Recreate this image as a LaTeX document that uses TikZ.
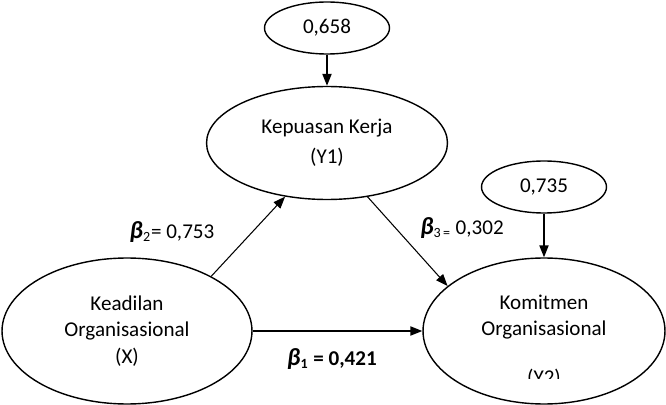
\documentclass[tikz,border=0pt]{standalone}
\usepackage{fontspec}
\setmainfont{Carlito}
\usetikzlibrary{shapes,arrows.meta}

\newcommand{\bcoef}{{\fontsize{14}{15}\selectfont\textbf{\textit{β}}}}

\begin{document}
\begin{tikzpicture}[
	x=0.02cm, y=-0.02cm,
	var/.style={ellipse, draw, line width=0.8pt, inner sep=0pt, align=center, font=\fontsize{12}{15}\selectfont},
	err/.style={ellipse, draw, line width=0.8pt, minimum width=2.5cm, minimum height=1.04cm, inner sep=0pt, font=\fontsize{12}{15}\selectfont},
	effect/.style={line width=0.6pt, -{Triangle[length=6.8pt, width=5.2pt]}},
	txt/.style={inner sep=0pt, font=\fontsize{12}{15}\selectfont}
	]
	\useasboundingbox (0,0) rectangle (666,405);
	
	% Variables
	\node[var, minimum width=5cm, minimum height=2.92cm] (kx) at (127,331) {Keadilan\\Organisasional\\(X)};
	\node[var, minimum width=4.82cm, minimum height=2.26cm] (y1) at (327,143) {Kepuasan Kerja\\[2pt](Y1)};
	\node[var, minimum width=4.84cm, minimum height=2.92cm] (y2) at (544,331) {};
	
	% Residuals
	\node[err] (e1) at (327,28) {0,658};
	\node[err] (e2) at (544,187) {0,735};
	
	% Text of Y2, cut off at the bottom
	\begin{scope}
		\clip (420,280) rectangle (666,378);
		\node[txt, align=center] (y2text) at (544,341) {Komitmen\\Organisasional\\[0.45cm](Y2)};
	\end{scope}
	
	% Paths
	\draw[effect] (kx.33.7) -- (y1.232.5);
	\draw[effect] (y1.307.4) -- (y2.155.9);
	\draw[effect, line width=0.9pt] (kx) -- (y2);
	\draw[effect, line width=0.9pt] (e1) -- (y1);
	\draw[effect, line width=0.9pt] (e2) -- (y2);
	
	% Coefficients
	\node[txt] (b2) at (172,232) {\bcoef\textsubscript{2}= 0,753};
	\node[txt] (b3) at (462,228) {\bcoef\textsubscript{3\,=} 0,302};
	\node[txt] (b1) at (332,359) {\textbf{\bcoef\textsubscript{1} = 0,421}};
	
\end{tikzpicture}
\end{document}
